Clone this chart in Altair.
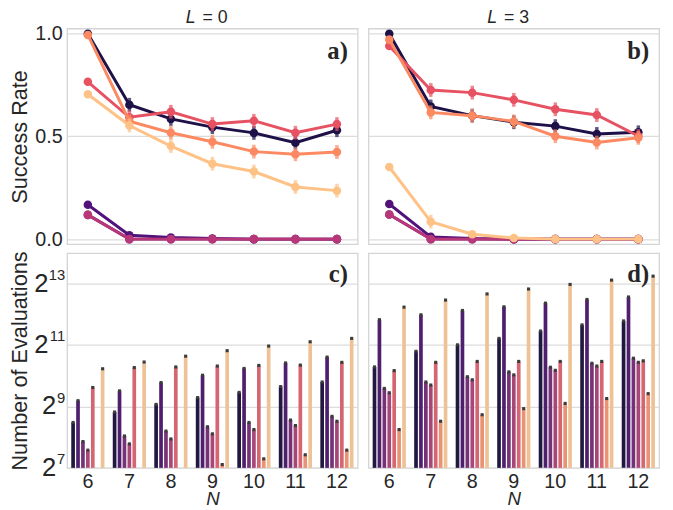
import colorsys
import altair as alt
import pandas as pd

N_VALUES = [6, 7, 8, 9, 10, 11, 12]
SERIES = ["S1", "S2", "S3", "S4", "S5", "S6", "S7"]
COLORS = ["#1d1147", "#51127c", "#822681", "#b73779", "#e75263", "#fc8961", "#fec287"]

RATE_L0 = {
    "S1": [1.0, 0.654, 0.585, 0.545, 0.517, 0.469, 0.53],
    "S2": [0.167, 0.019, 0.008, 0.003, 0.0, 0.0, 0.0],
    "S3": [0.118, 0.0, 0.0, 0.0, 0.0, 0.0, 0.0],
    "S4": [0.118, 0.0, 0.0, 0.0, 0.0, 0.0, 0.0],
    "S5": [0.766, 0.593, 0.62, 0.56, 0.576, 0.518, 0.56],
    "S6": [0.994, 0.574, 0.518, 0.474, 0.426, 0.413, 0.424],
    "S7": [0.705, 0.553, 0.453, 0.367, 0.329, 0.254, 0.236],
}
RATE_L3 = {
    "S1": [1.0, 0.646, 0.601, 0.569, 0.55, 0.512, 0.52],
    "S2": [0.171, 0.011, 0.003, 0.0, 0.0, 0.0, 0.0],
    "S3": [0.12, 0.0, 0.0, 0.0, 0.0, 0.0, 0.0],
    "S4": [0.12, 0.0, 0.0, 0.0, 0.0, 0.0, 0.0],
    "S5": [0.94, 0.726, 0.713, 0.678, 0.632, 0.604, 0.502],
    "S6": [0.971, 0.617, 0.601, 0.573, 0.501, 0.47, 0.493],
    "S7": [0.351, 0.085, 0.024, 0.005, 0.0, 0.0, 0.0],
}
EVALS_L0 = {
    "S1": [357, 452, 537, 626, 704, 803, 891],
    "S2": [584, 729, 879, 1038, 1210, 1370, 1563],
    "S3": [232, 263, 294, 324, 357, 377, 410],
    "S4": [191, 220, 246, 276, 304, 333, 367],
    "S5": [787, 1235, 1252, 1278, 1296, 1305, 1389],
    "S6": [None, None, None, 138, 157, 172, 191],
    "S7": [1201, 1399, 1596, 1808, 2006, 2211, 2386],
}
EVALS_L3 = {
    "S1": [1252, 1783, 2062, 2386, 2818, 3236, 3541],
    "S2": [3641, 4067, 4482, 4871, 5294, 5752, 6081],
    "S3": [771, 891, 1003, 1120, 1243, 1361, 1525],
    "S4": [699, 832, 936, 1046, 1160, 1278, 1389],
    "S5": [1152, 1389, 1418, 1418, 1418, 1418, 1438],
    "S6": [304, 367, 425, 488, 549, 613, 685],
    "S7": [4837, 5673, 6517, 7282, 8079, 8903, 9742],
}
Y_TICKS_EVAL = [128, 512, 2048, 8192]
Y_EXPONENTS = ["7", "9", "11", "13"]
EVAL_FLOOR = 128

FONT = "Liberation Sans"
TXT = "#262626"
W = 295
H_TOP = 219
H_BOT = 218


def desaturate(hx, prop=0.75):
    r, g, b = (int(hx[i:i + 2], 16) / 255 for i in (1, 3, 5))
    h, l, s = colorsys.rgb_to_hls(r, g, b)
    r, g, b = colorsys.hls_to_rgb(h, l, s * prop)
    return "#%02x%02x%02x" % (round(r * 255), round(g * 255), round(b * 255))


BAR_COLORS = [desaturate(c) for c in COLORS]


def long_df(data, col):
    rows = []
    for s in SERIES:
        for n, v in zip(N_VALUES, data[s]):
            if v is not None:
                rows.append({"series": s, "N": n, col: v})
    return pd.DataFrame(rows)


def one_row():
    return pd.DataFrame({"k": [0]})


def header(val):
    l1 = alt.Chart(one_row()).mark_text(
        text="L", font=FONT, fontSize=18, fontStyle="italic", align="left",
        baseline="middle", color=TXT).encode(x=alt.value(W / 2 - 27), y=alt.value(-11))
    l2 = alt.Chart(one_row()).mark_text(
        text="= " + val, font=FONT, fontSize=18, align="left",
        baseline="middle", color=TXT).encode(x=alt.value(W / 2 - 10), y=alt.value(-11))
    return [l1, l2]


def letter(t, y):
    return alt.Chart(one_row()).mark_text(
        text=t, font="Liberation Serif", fontSize=25, fontWeight="bold", align="right",
        baseline="middle", color=TXT).encode(x=alt.value(W - 10), y=alt.value(y))


def rate_panel(data, hval, let, left):
    df = long_df(data, "rate")
    xs = alt.Scale(domain=[5.5, 12.5], nice=False, zero=False)
    ys = alt.Scale(domain=[-0.025, 1.025], nice=False, zero=False)
    if left:
        yaxis = alt.Axis(values=[0, 0.5, 1.0], format=".1f", title="Success Rate",
                         labelFontSize=20, titleFontSize=22, labelPadding=5, titlePadding=3,
                         minExtent=33, maxExtent=33, ticks=False, domain=False, grid=True,
                         labelFont=FONT, titleFont=FONT, titleFontWeight="normal",
                         labelColor=TXT, titleColor=TXT)
    else:
        yaxis = alt.Axis(values=[0, 0.5, 1.0], labels=False, ticks=False, domain=False,
                         title=None, grid=True, minExtent=0, maxExtent=0)
    layers = []
    for s, c in zip(SERIES, COLORS):
        sub = df[df.series == s]
        base = alt.Chart(sub).encode(
            x=alt.X("N:Q", scale=xs, axis=None),
            y=alt.Y("rate:Q", scale=ys, axis=yaxis))
        layers.append(base.mark_line(color=c, strokeWidth=3))
        layers.append(base.transform_filter(
            "datum.N > 6 && datum.rate > 0.05 && datum.rate < 0.97"
        ).mark_tick(orient="vertical", color=c, size=14, thickness=3.5))
        layers.append(base.mark_point(filled=True, color=c, size=75, opacity=1))
    layers += header(hval)
    layers.append(letter(let, 23))
    return alt.layer(*layers).properties(width=W, height=H_TOP)


def eval_panel(data, let, left):
    df = long_df(data, "evals")
    df["floor"] = EVAL_FLOOR
    ys = alt.Scale(type="log", base=2, domain=[128, 16384], nice=False)
    xaxis = alt.Axis(title="N", titleFontStyle="italic", labelAngle=0, ticks=False,
                     domain=False, labelFontSize=20, titleFontSize=19, labelPadding=4,
                     titlePadding=-2, grid=False, labelFont=FONT, titleFont=FONT,
                     titleFontWeight="normal", labelColor=TXT, titleColor=TXT)
    x = alt.X("N:O", scale=alt.Scale(domain=N_VALUES, paddingInner=0.2, paddingOuter=0.1),
              axis=xaxis)
    xo = alt.XOffset("series:N", scale=alt.Scale(domain=SERIES, paddingInner=0.25))
    if left:
        yaxis = alt.Axis(values=Y_TICKS_EVAL, labels=False, ticks=False, domain=False,
                         grid=True, title="Number of Evaluations", titleFontSize=22,
                         titlePadding=3, minExtent=33, maxExtent=33, titleFont=FONT,
                         titleFontWeight="normal", titleColor=TXT)
    else:
        yaxis = alt.Axis(values=Y_TICKS_EVAL, labels=False, ticks=False, domain=False,
                         grid=True, title=None, minExtent=0, maxExtent=0)
    y = alt.Y("evals:Q", scale=ys, axis=yaxis)
    bars = alt.Chart(df).mark_bar().encode(
        x=x, xOffset=xo, y=y, y2=alt.Y2("floor:Q"),
        color=alt.Color("series:N", scale=alt.Scale(domain=SERIES, range=BAR_COLORS),
                        legend=None))
    dots = alt.Chart(df).mark_point(filled=True, shape="square", size=10,
                                    color="#3c3c3c", opacity=1).encode(x=x, xOffset=xo, y=y)
    layers = [bars, dots]
    if left:
        ticks_df = pd.DataFrame({"evals": Y_TICKS_EVAL, "e": Y_EXPONENTS})
        single = ticks_df[ticks_df.e.str.len() == 1]
        double = ticks_df[ticks_df.e.str.len() == 2]
        for sub, bx in ((single, -11), (double, -19)):
            layers.append(alt.Chart(sub).mark_text(
                text="2", font=FONT, fontSize=26, align="right", baseline="middle",
                color=TXT).encode(x=alt.value(bx), y=y))
            layers.append(alt.Chart(sub).mark_text(
                font=FONT, fontSize=15, align="right", baseline="middle", dy=-9,
                color=TXT).encode(x=alt.value(-2), y=y, text="e:N"))
    layers.append(letter(let, 21))
    return alt.layer(*layers).properties(width=W, height=H_BOT)


top = alt.hconcat(rate_panel(RATE_L0, "0", "a)", True),
                  rate_panel(RATE_L3, "3", "b)", False), spacing=9)
bottom = alt.hconcat(eval_panel(EVALS_L0, "c)", True),
                     eval_panel(EVALS_L3, "d)", False), spacing=9)

chart = alt.vconcat(top, bottom, spacing=0).properties(
    padding={"left": 0, "top": -4, "right": 5, "bottom": 2}
).configure_view(stroke="#d4d4d4", strokeWidth=1.3).configure_axis(
    gridColor="#dcdcdc", gridWidth=1.3
)

chart.save("out.html", embed_options={"renderer": "svg", "actions": False})
